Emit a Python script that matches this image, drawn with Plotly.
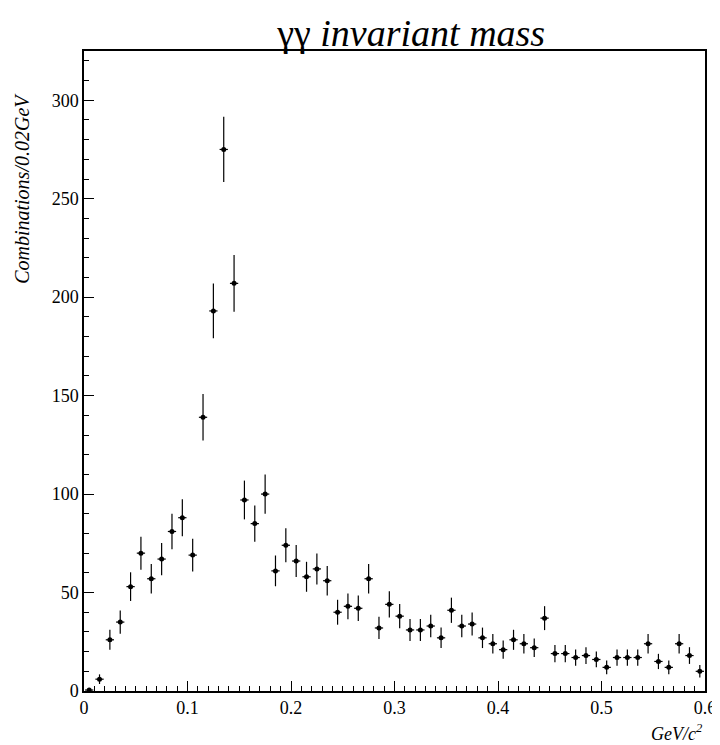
import numpy as np
import plotly.graph_objects as go

mass = [round(0.005 + 0.01 * i, 3) for i in range(60)]
counts = [0.5, 6, 26, 35, 53, 70, 57, 67, 81, 88,
          69, 139, 193, 275, 207, 97, 85, 100, 61, 74,
          66, 58, 62, 56, 40, 43, 42, 57, 32, 44,
          38, 31, 31, 33, 27, 41, 33, 34, 27, 24,
          21, 26, 24, 22, 37, 19, 19, 17, 18, 16,
          12, 17, 17, 17, 24, 15, 12, 24, 18, 10]
errors = [np.sqrt(c) if c > 1 else 0 for c in counts]

font = "Liberation Serif"

fig = go.Figure()
fig.add_trace(go.Scatter(
    x=mass, y=counts, mode="markers",
    marker=dict(color="black", size=5),
    error_y=dict(type="data", array=errors, color="black", thickness=1.2, width=0),
    error_x=dict(type="constant", value=0.004, color="black", thickness=1.2, width=0),
    showlegend=False
))

axis_common = dict(showline=True, linecolor="black", linewidth=1.5, mirror=True,
                   ticks="inside", ticklen=10, tickcolor="black", showgrid=False,
                   zeroline=False, tickfont=dict(family=font, size=18, color="black"))

fig.update_xaxes(range=[0, 0.6], tickvals=[0, 0.1, 0.2, 0.3, 0.4, 0.5, 0.6],
                 ticktext=["0", "0.1", "0.2", "0.3", "0.4", "0.5", "0.6"],
                 minor=dict(dtick=0.01, ticks="inside", ticklen=5, tickcolor="black"),
                 **axis_common)
fig.update_yaxes(range=[0, 325], tickvals=[0, 50, 100, 150, 200, 250, 300],
                 minor=dict(dtick=10, ticks="inside", ticklen=5, tickcolor="black"),
                 **axis_common)

fig.add_annotation(text="<i>GeV/c<sup>2</sup></i>", xref="paper", yref="paper",
                   x=1.0, y=-0.043, xanchor="right", yanchor="top", showarrow=False,
                   font=dict(family=font, size=18, color="black"))
fig.add_annotation(text="<i>Combinations/0.02GeV</i>", xref="paper", yref="paper",
                   x=-0.1, y=0.786, xanchor="center", yanchor="middle", textangle=-90,
                   showarrow=False, font=dict(family=font, size=20, color="black"))

fig.update_layout(
    width=720, height=745,
    margin=dict(l=76, r=13, t=43, b=62),
    paper_bgcolor="white", plot_bgcolor="white",
    title=dict(text="γγ <i>invariant mass</i>", x=0.56, xanchor="center", y=0.985,
               yanchor="top", font=dict(family=font, size=38, color="black")),
)

fig.write_html("out.html")
